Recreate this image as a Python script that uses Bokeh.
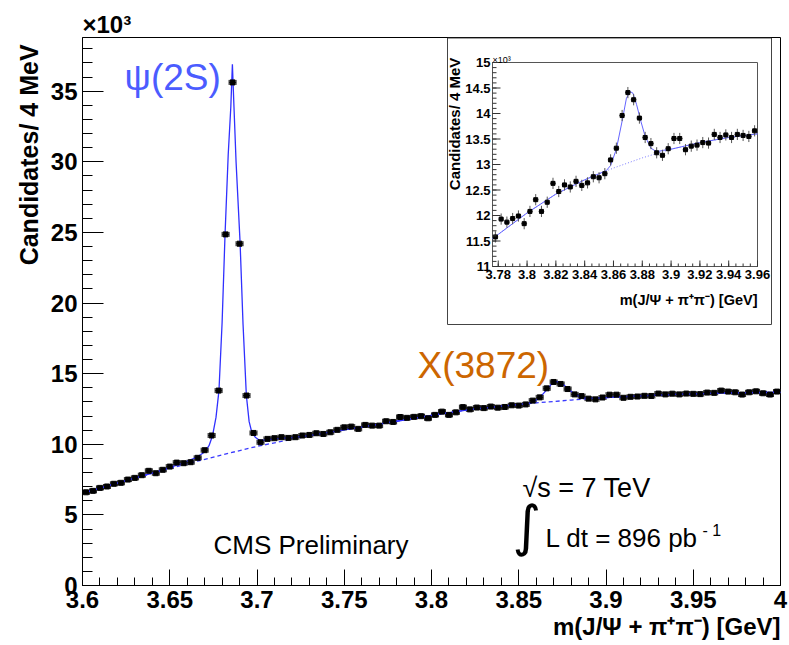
import math
from bokeh.plotting import figure
from bokeh.models import (Range1d, SingleIntervalTicker, NumeralTickFormatter, Label,
                          ColumnDataSource, Whisker, TeeHead, Title)
from bokeh.embed import file_html
from bokeh.resources import INLINE
from bokeh.core.properties import value

# ---------------- data (values in units of 10^3 candidates / 4 MeV) ----------------
BIN_WIDTH = 0.004            # GeV
MAIN_LO, MAIN_HI = 3.6, 4.0  # main histogram range (100 bins)
INSET_LO, INSET_HI = 3.776, 3.96  # inset histogram range (46 bins)

main_counts_k = [
    6.60, 6.70, 6.91, 7.01, 7.20, 7.27, 7.50, 7.62, 7.81, 8.12,
    7.95, 8.19, 8.42, 8.70, 8.66, 8.73, 9.04, 9.58, 10.62, 13.80,
    24.86, 35.62, 24.20, 13.45, 10.80, 10.14, 10.38, 10.43, 10.50, 10.45,
    10.50, 10.62, 10.66, 10.78, 10.73, 10.85, 11.02, 11.20, 11.25, 11.09,
    11.37, 11.32, 11.32, 11.63, 11.58, 11.93, 11.87, 11.94, 11.99, 11.84,
    12.08, 12.31, 12.08, 12.26, 12.63, 12.47, 12.60, 12.56, 12.67, 12.59,
    12.64, 12.76, 12.74, 12.82, 13.09, 13.32, 13.96, 14.41, 14.27, 13.91,
    13.53, 13.41, 13.23, 13.18, 13.31, 13.51, 13.51, 13.29, 13.36, 13.38,
    13.43, 13.42, 13.59, 13.53, 13.58, 13.53, 13.59, 13.57, 13.55, 13.66,
    13.64, 13.80, 13.73, 13.68, 13.52, 13.68, 13.75, 13.61, 13.52, 13.73,
]

inset_counts_k = [
    11.58, 11.93, 11.87, 11.94, 11.99, 11.84, 12.08, 12.31, 12.08, 12.26,
    12.63, 12.47, 12.60, 12.56, 12.67, 12.59, 12.64, 12.76, 12.74, 12.82,
    13.09, 13.32, 13.96, 14.41, 14.27, 13.91, 13.53, 13.41, 13.23, 13.18,
    13.31, 13.51, 13.51, 13.29, 13.36, 13.38, 13.43, 13.42, 13.59, 13.53,
    13.58, 13.53, 13.59, 13.57, 13.55, 13.66,
]
INSET_YERR = 0.11  # statistical error (10^3)

# total fit (signal + background)
fit_x = [3.600, 3.620, 3.640, 3.655, 3.665, 3.670, 3.6725, 3.6745, 3.6765, 3.6782,
         3.680, 3.6817, 3.6835, 3.685, 3.6859, 3.6868, 3.688, 3.6903, 3.692, 3.6939,
         3.6955, 3.697, 3.699, 3.7012, 3.704, 3.710, 3.720, 3.730, 3.740, 3.760,
         3.776, 3.780, 3.800, 3.820, 3.840, 3.850, 3.855, 3.858, 3.862, 3.866,
         3.869, 3.8715, 3.8735, 3.876, 3.879, 3.882, 3.886, 3.890, 3.895, 3.900,
         3.920, 3.940, 3.960, 3.980, 4.000]
fit_y = [6.52, 7.25, 7.96, 8.55, 9.05, 9.45, 9.90, 10.60, 11.90, 13.80,
         18.60, 24.90, 30.50, 33.90, 36.90, 33.90, 30.00, 24.30, 18.50, 13.45,
         11.60, 10.85, 10.50, 10.30, 10.30, 10.38, 10.48, 10.62, 10.82, 11.22,
         11.55, 11.63, 12.05, 12.42, 12.70, 12.82, 12.88, 12.98, 13.30, 13.85,
         14.30, 14.43, 14.40, 14.18, 13.85, 13.55, 13.32, 13.25, 13.28, 13.30,
         13.43, 13.53, 13.60, 13.65, 13.68]

# background component of the fit
bg_x = [3.600, 3.620, 3.640, 3.660, 3.680, 3.700, 3.720, 3.740, 3.760, 3.776,
        3.780, 3.800, 3.820, 3.840, 3.860, 3.880, 3.900, 3.920, 3.940, 3.960,
        3.980, 4.000]
bg_y = [6.52, 7.25, 7.95, 8.62, 9.25, 9.85, 10.35, 10.80, 11.22, 11.55,
        11.63, 12.05, 12.42, 12.70, 12.93, 13.13, 13.30, 13.43, 13.53, 13.60,
        13.65, 13.68]

inset_xticks = [3.78, 3.80, 3.82, 3.84, 3.86, 3.88, 3.90, 3.92, 3.94, 3.96]
inset_xtick_labels = ["3.78", "3.8", "3.82", "3.84", "3.86", "3.88", "3.9", "3.92", "3.94", "3.96"]
inset_yticks = [11.0, 11.5, 12.0, 12.5, 13.0, 13.5, 14.0, 14.5, 15.0]
inset_ytick_labels = ["11", "11.5", "12", "12.5", "13", "13.5", "14", "14.5", "15"]

X_TITLE = "m(J/\u03a8 + \u03c0\u207a\u03c0\u207b) [GeV]"
Y_TITLE = "Candidates/ 4  MeV"

# ---------------- geometry (canvas pixels) ----------------
W, H = 789, 645
FL, FR, FT, FB = 82, 780, 37, 585
YMAX = 38.8

def DX(px):
    return MAIN_LO + (px - FL) * (MAIN_HI - MAIN_LO) / (FR - FL)

def DY(py):
    return YMAX * (FB - py) / (FB - FT)

# inset frame in pixels
IL, IR, IT, IB = 492, 757, 62, 266
ISX = (INSET_HI - INSET_LO) / (IR - IL)
ISY = 4.0 / (IB - IT)

FONT = value("Liberation Sans")

p = figure(width=W, height=H, x_range=Range1d(MAIN_LO, MAIN_HI), y_range=Range1d(0, YMAX),
           output_backend="svg", toolbar_location=None, title=None,
           min_border_left=FL, min_border_right=W - FR, min_border_top=FT,
           min_border_bottom=H - FB, background_fill_color="white",
           border_fill_color="white")
p.xgrid.visible = False
p.ygrid.visible = False
p.outline_line_color = "black"
p.outline_line_width = 1

p.extra_x_ranges = {"ix": Range1d(INSET_LO - (IL - FL) * ISX, INSET_HI + (FR - IR) * ISX)}
p.extra_y_ranges = {"iy": Range1d(11.0 - (FB - IB) * ISY, 15.0 + (IT - FT) * ISY)}

# axes styling
for ax in (p.xaxis[0], p.yaxis[0]):
    ax.axis_line_color = "black"
    ax.major_tick_line_color = "black"
    ax.minor_tick_line_color = "black"
    ax.major_tick_out = 0
    ax.minor_tick_out = 0
    ax.major_label_text_font = "Liberation Sans"
    ax.major_label_text_font_style = "bold"
    ax.major_label_text_font_size = "24px"
    ax.major_label_text_color = "black"

p.xaxis.ticker = SingleIntervalTicker(interval=0.05, num_minor_ticks=5)
p.xaxis.formatter = NumeralTickFormatter(format="0.[00]")
p.xaxis.major_tick_in = 16
p.xaxis.minor_tick_in = 8
p.xaxis.major_label_standoff = 5

p.yaxis.ticker = SingleIntervalTicker(interval=5, num_minor_ticks=5)
p.yaxis.major_tick_in = 21
p.yaxis.minor_tick_in = 10
p.yaxis.major_label_standoff = 5

# axis titles, right/top aligned as in ROOT
p.add_layout(Title(text=X_TITLE, align="right", standoff=0, offset=0,
                   text_font="Liberation Sans", text_font_style="bold",
                   text_font_size="24px", text_color="black"), "below")
p.add_layout(Title(text=Y_TITLE, align="right", standoff=9, offset=0,
                   text_font="Liberation Sans", text_font_style="bold",
                   text_font_size="25px", text_color="black"), "left")
# "x10^3" multiplier above the y axis
p.add_layout(Title(text="\u00d710\u00b3", align="left", standoff=0, offset=0,
                   text_font="Liberation Sans", text_font_style="bold",
                   text_font_size="24px", text_color="black"), "above")

# ---------------- main plot ----------------
main_x = [MAIN_LO + BIN_WIDTH * (i + 0.5) for i in range(len(main_counts_k))]
src = ColumnDataSource(dict(
    x=main_x, y=main_counts_k,
    xl=[x - BIN_WIDTH / 2 for x in main_x], xu=[x + BIN_WIDTH / 2 for x in main_x]))

p.line(bg_x, bg_y, line_color="#3a3aff", line_width=1.3, line_dash="4 3")
p.line(fit_x, fit_y, line_color="#3030ff", line_width=1.3)
p.add_layout(Whisker(source=src, base="y", lower="xl", upper="xu", dimension="width",
                     line_color="#222222", line_width=1,
                     upper_head=TeeHead(size=5, line_color="#222222"),
                     lower_head=TeeHead(size=5, line_color="#222222")))
p.scatter("x", "y", source=src, marker="square", size=5, color="black")

# ---------------- inset ----------------
inset_x = [INSET_LO + BIN_WIDTH * (i + 0.5) for i in range(len(inset_counts_k))]
isrc = ColumnDataSource(dict(
    x=inset_x, y=inset_counts_k,
    xl=[x - BIN_WIDTH / 2 for x in inset_x], xu=[x + BIN_WIDTH / 2 for x in inset_x],
    yl=[y - INSET_YERR for y in inset_counts_k], yu=[y + INSET_YERR for y in inset_counts_k]))
IR_ = dict(x_range_name="ix", y_range_name="iy")

# outer pad box of the inset
p.quad(left=DX(447), right=DX(771), bottom=DY(324), top=DY(37.5),
       fill_color=None, line_color="#444444", line_width=1)
# inset frame
p.quad(left=INSET_LO, right=INSET_HI, bottom=11.0, top=15.0, fill_color=None,
       line_color="#555555", line_width=1, **IR_)

ifx = [x for x in fit_x if INSET_LO <= x <= INSET_HI]
ify = [y for x, y in zip(fit_x, fit_y) if INSET_LO <= x <= INSET_HI]
ibx = [x for x in bg_x if INSET_LO <= x <= INSET_HI]
iby = [y for x, y in zip(bg_x, bg_y) if INSET_LO <= x <= INSET_HI]
p.line(ibx, iby, line_color="#7a7aff", line_width=1, line_dash="1 2", **IR_)
p.line(ifx, ify, line_color="#6464ff", line_width=1, **IR_)
p.segment(x0="xl", x1="xu", y0="y", y1="y", source=isrc, line_color="#555555", line_width=1, **IR_)
p.segment(x0="x", x1="x", y0="yl", y1="yu", source=isrc, line_color="#555555", line_width=1, **IR_)
p.scatter("x", "y", source=isrc, marker="square", size=4, color="black", **IR_)

# inset ticks
inset_xminor = [t / 1000 for t in range(3780, 3961, 5)]
inset_yminor = [t / 10 for t in range(110, 151)]
p.ray(x=inset_xminor, y=[11.0] * len(inset_xminor), length=3, length_units="screen",
      angle=math.pi / 2, line_color="#333333", **IR_)
p.ray(x=inset_xticks, y=[11.0] * len(inset_xticks), length=6, length_units="screen",
      angle=math.pi / 2, line_color="#333333", **IR_)
p.ray(x=[INSET_LO] * len(inset_yminor), y=inset_yminor, length=4, length_units="screen",
      angle=0, line_color="#333333", **IR_)
p.ray(x=[INSET_LO] * len(inset_yticks), y=inset_yticks, length=8, length_units="screen",
      angle=0, line_color="#333333", **IR_)
p.text(x=inset_xticks, y=[11.0] * len(inset_xticks), text=inset_xtick_labels,
       text_align="center", text_baseline="top", y_offset=3,
       text_font=FONT, text_font_style="bold", text_font_size="13px", text_color="black", **IR_)
p.text(x=[INSET_LO] * len(inset_yticks), y=inset_yticks, text=inset_ytick_labels,
       text_align="right", text_baseline="middle", x_offset=-2,
       text_font=FONT, text_font_style="bold", text_font_size="13px", text_color="black", **IR_)

def add_label(px, py, text, size, color="black", style="normal", align="left",
              baseline="alphabetic", angle=0.0, font="Liberation Sans"):
    p.add_layout(Label(x=DX(px), y=DY(py), text=text, text_font=font,
                       text_font_size=f"{size}px", text_font_style=style,
                       text_color=color, text_align=align, text_baseline=baseline,
                       angle=angle))

# inset titles
add_label(454, 53, Y_TITLE, 15, style="bold", align="right",
          baseline="middle", angle=math.pi / 2)
add_label(757, 299, X_TITLE, 14.5, style="bold", align="right")
add_label(492, 59, "\u00d710\u00b3", 9)

# annotations
add_label(124, 77, "\u03c8(2S)", 37, color="#4b5cff")
add_label(417, 365, "X(3872)", 37, color="#cc6600")
add_label(213, 544, "CMS Preliminary", 26)
add_label(522, 487, "\u221as = 7 TeV", 27)
add_label(512, 525, "\u222b", 55, font="DejaVu Sans")
add_label(545, 537, "L dt = 896 pb", 26)
add_label(702, 530, "- 1", 16)

open("out.html", "w").write(file_html(p, INLINE))
